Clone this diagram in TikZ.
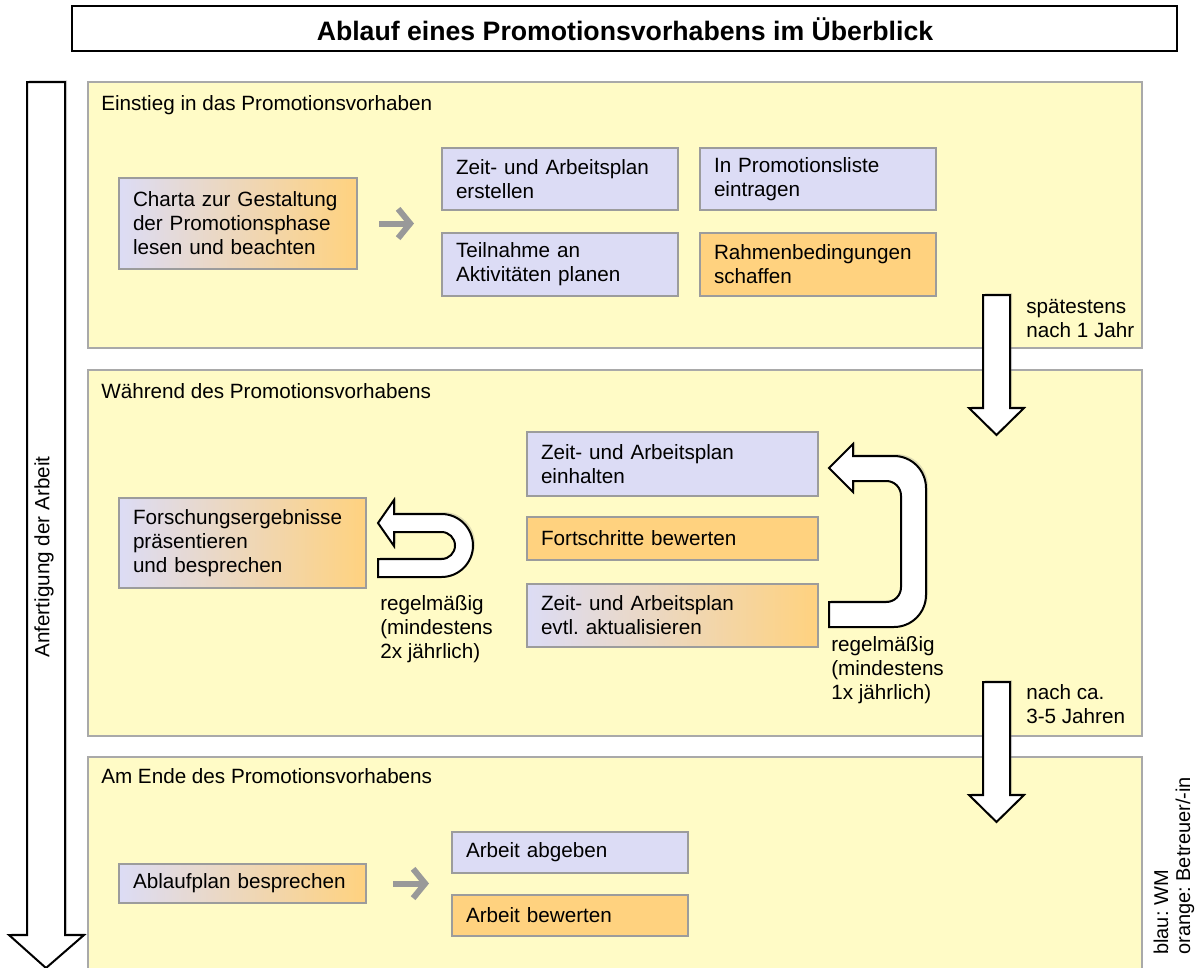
\documentclass[tikz,border=0pt]{standalone}
\usepackage{fontspec}
\setmainfont{Liberation Sans}
\usetikzlibrary{arrows.meta,shadows}
\frenchspacing

\definecolor{panelyellow}{HTML}{FFFBC6}
\definecolor{panelline}{HTML}{A9A9A9}
\definecolor{wmblue}{HTML}{DCDCF5}
\definecolor{betrorange}{HTML}{FFD27F}
\definecolor{boxline}{HTML}{9C9C9C}
\definecolor{arrowgray}{HTML}{999999}

\newcommand{\bodysize}{\fontsize{15.5}{18}\selectfont}

\tikzset{
  panel/.style={draw=panelline, line width=1.5pt, fill=panelyellow},
  heading/.style={anchor=base west, inner sep=0pt, font=\bodysize},
  box/.style 2 args={draw=boxline, line width=1.5pt, inner xsep=10.5pt, inner ysep=0pt,
    text width=#1, minimum height=#2, align=left, font=\bodysize},
  wm/.style={fill=wmblue},
  betr/.style={fill=betrorange},
  mixed/.style={left color=wmblue, right color=betrorange},
  note/.style={anchor=west, inner sep=0pt, align=left, font=\bodysize},
  grayarr/.style={draw=arrowgray, line width=4.5pt, -{Straight Barb[length=9pt,width=22pt]}},
  blockarr/.style={draw=black, line width=1.5pt, fill=white, line join=miter,
    drop shadow={opacity=0.25, shadow xshift=1.5pt, shadow yshift=1.5pt}}
}

\begin{document}
\begin{tikzpicture}[x=0.75pt,y=0.75pt,yscale=-1,xscale=1]
\useasboundingbox (0,0) rectangle (1197,968);

\draw [line width=1.5pt] (72,6) rectangle (1177,51);
\draw (625,29) node (title) {\fontsize{20}{24}\selectfont\bfseries Ablauf eines Promotionsvorhabens im Überblick};

\draw [panel] (88,82) rectangle (1142,348);
\draw [panel] (88,370) rectangle (1142,736);
\draw [panel] (88,757) rectangle (1142,978);

% Zeitachse links
\draw [blockarr] (27,82) -- (65,82) -- (65,935) -- (84,935) -- (46,968) -- (9,935) -- (27,935) -- cycle;
\draw (44,557) node [rotate=90, font=\bodysize] (zeitachse) {Anfertigung der Arbeit};

% Einstieg
\draw (101,110) node [heading] (einstieg) {Einstieg in das Promotionsvorhaben};
\draw (238,223.5) node [box={157.5pt}{68.25pt}, mixed] (charta) {Charta zur Gestaltung\\der Promotionsphase\\lesen und beachten};
\draw (560,179) node [box={156pt}{46.5pt}, wm] (planerstellen) {Zeit- und Arbeitsplan\\erstellen};
\draw (560,264.5) node [box={156pt}{47.25pt}, wm] (teilnahme) {Teilnahme an\\Aktivitäten planen};
\draw (818,179) node [box={156pt}{46.5pt}, wm] (promliste) {In Promotionsliste\\eintragen};
\draw (818,264.5) node [box={156pt}{47.25pt}, betr] (rahmen) {Rahmenbedingungen\\schaffen};
\draw [grayarr] ([xshift=15.75pt]charta.east) -- ([xshift=-20.25pt]planerstellen.west |- charta.east);

\draw [blockarr] (983,295) -- (1010,295) -- (1010,408) -- (1024,408) -- (996.5,435) -- (969,408) -- (983,408) -- cycle;
\draw (1026,319) node [note] (spaetestens) {spätestens\\nach 1 Jahr};

% Waehrend
\draw (101,398) node [heading] (waehrend) {Während des Promotionsvorhabens};
\draw (242.5,543) node [box={164.25pt}{67.5pt}, mixed] (forschung) {Forschungsergebnisse\\präsentieren\\und besprechen};
\draw [blockarr] (378,523) -- (394,500) -- (394,514) [rounded corners=23.6pt] -- (473,514) -- (473,577) [sharp corners] -- (378,577) -- (378,559) [rounded corners=10.1pt] -- (455,559) -- (455,532) [sharp corners] -- (394,532) -- (394,546) -- cycle;
\draw (380,629) node [note] (zweimal) {regelmäßig\\(mindestens\\2x jährlich)};

\draw (672.5,464) node [box={197.25pt}{48pt}, wm] (planeinhalten) {Zeit- und Arbeitsplan\\einhalten};
\draw (672.5,538.5) node [box={197.25pt}{32.25pt}, betr] (fortschritte) {Fortschritte bewerten};
\draw (672.5,615.5) node [box={197.25pt}{47.25pt}, mixed] (planaktuell) {Zeit- und Arbeitsplan\\evtl. aktualisieren};
\draw [blockarr] (829,468) -- (853,444) -- (853,456) [rounded corners=24pt] -- (926,456) -- (926,627) [sharp corners] -- (829,627) -- (829,602) [rounded corners=11pt] -- (901,602) -- (901,481) [sharp corners] -- (853,481) -- (853,492) -- cycle;
\draw (831,670) node [note] (einmal) {regelmäßig\\(mindestens\\1x jährlich)};

\draw [blockarr] (983,682) -- (1010,682) -- (1010,795) -- (1024,795) -- (996.5,822) -- (969,795) -- (983,795) -- cycle;
\draw (1026,704) node [note] (nachca) {nach ca.\\3-5 Jahren};

% Ende
\draw (101,783) node [heading] (ende) {Am Ende des Promotionsvorhabens};
\draw (242.5,883.5) node [box={164.25pt}{29.25pt}, mixed] (ablaufplan) {Ablaufplan besprechen};
\draw (570,852.5) node [box={156pt}{30.75pt}, wm] (abgeben) {Arbeit abgeben};
\draw (570,915.5) node [box={156pt}{30.75pt}, betr] (bewerten) {Arbeit bewerten};
\draw [grayarr] ([xshift=19.5pt]ablaufplan.east) -- ([xshift=-16.5pt]abgeben.west |- ablaufplan.east);

\draw (1174,955) node [rotate=90, anchor=west, inner sep=0pt, align=left, font=\fontsize{15}{16.5}\selectfont] (legende) {blau: WM\\orange: Betreuer/-in};

\end{tikzpicture}
\end{document}
